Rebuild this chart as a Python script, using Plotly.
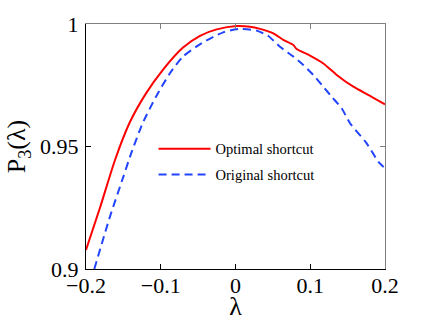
import plotly.graph_objects as go

# optimal shortcut (red solid)
lam_opt = [-0.2, -0.1813, -0.1612, -0.142, -0.1197, -0.0974, -0.0706, -0.0475, -0.0252,
           0.0016, 0.0194, 0.0328, 0.0506, 0.064, 0.0774, 0.0818, 0.0997, 0.1175,
           0.1354, 0.1576, 0.18, 0.2]
p_opt = [0.9078, 0.925, 0.9445, 0.9595, 0.9717, 0.9812, 0.9903, 0.9952, 0.9978,
         0.9992, 0.9989, 0.998, 0.9962, 0.9935, 0.9914, 0.9898, 0.9871, 0.9839,
         0.9792, 0.9744, 0.9707, 0.9672]

# original shortcut (blue dashed)
lam_orig = [-0.1889, -0.1679, -0.15, -0.1398, -0.1242, -0.1064, -0.0886, -0.0706, -0.045,
            -0.0163, 0.006, 0.0284, 0.0439, 0.0595, 0.0774, 0.0907, 0.1041, 0.1175,
            0.1287, 0.142, 0.1532, 0.1755, 0.191, 0.2]
p_orig = [0.900, 0.9214, 0.9377, 0.947, 0.9595, 0.9703, 0.9795, 0.9866, 0.9922,
          0.9966, 0.998, 0.9973, 0.9951, 0.9907, 0.9867, 0.9833, 0.9792, 0.9744,
          0.9703, 0.9656, 0.9595, 0.9513, 0.9438, 0.9411]

x_ticks = [-0.2, -0.1, 0, 0.1, 0.2]
x_labels = ["−0.2", "−0.1", "0", "0.1", "0.2"]
y_ticks = [0.9, 0.95, 1]
y_labels = ["0.9", "0.95", "1"]

serif = "Liberation Serif, Times New Roman, serif"

fig = go.Figure()
fig.add_trace(go.Scatter(x=lam_opt, y=p_opt, mode="lines", name="Optimal shortcut",
                         legendgroup="a",
                         line=dict(color="#ff0000", width=2, shape="spline", smoothing=0.6)))
fig.add_trace(go.Scatter(x=lam_orig, y=p_orig, mode="lines", name="Original shortcut",
                         legendgroup="b",
                         line=dict(color="#2244ff", width=2, shape="spline", smoothing=0.6,
                                   dash="8px,5px")))
# empty trace so the gray top/right frame axes get drawn
fig.add_trace(go.Scatter(x=[None], y=[None], xaxis="x2", yaxis="y2", showlegend=False,
                         hoverinfo="skip"))

fig.update_layout(
    width=425, height=321,
    margin=dict(l=86, r=40, t=24, b=52),
    paper_bgcolor="white", plot_bgcolor="white",
    font=dict(family=serif, color="black"),
    legend=dict(x=0.226, y=0.556, xanchor="left", yanchor="top", itemwidth=52,
                font=dict(size=14.5, family=serif), bgcolor="rgba(0,0,0,0)",
                tracegroupgap=4),
    xaxis=dict(range=[-0.2, 0.2], tickvals=x_ticks, ticktext=x_labels, automargin=False,
               ticks="inside", ticklen=5, tickcolor="black", showline=True, linecolor="black",
               linewidth=1, showgrid=False, zeroline=False,
               tickfont=dict(size=22, family=serif), ticklabelstandoff=-3,
               title=dict(text="λ", font=dict(size=26, family=serif), standoff=4)),
    yaxis=dict(range=[0.9, 1.0], tickvals=y_ticks, ticktext=y_labels, automargin=False,
               ticks="inside", ticklen=5, tickcolor="black", showline=True, linecolor="black",
               linewidth=1, showgrid=False, zeroline=False,
               tickfont=dict(size=22, family=serif), ticklabelstandoff=2,
               title=dict(text="P<sub>3</sub>(λ)", font=dict(size=26, family=serif),
                          standoff=6)),
    xaxis2=dict(range=[-0.2, 0.2], overlaying="x", side="top", tickvals=x_ticks,
                showticklabels=False, ticks="inside", ticklen=5, tickcolor="#808080",
                showline=True, linecolor="#808080", showgrid=False, zeroline=False,
                automargin=False),
    yaxis2=dict(range=[0.9, 1.0], overlaying="y", side="right", tickvals=y_ticks,
                showticklabels=False, ticks="inside", ticklen=5, tickcolor="#808080",
                showline=True, linecolor="#808080", showgrid=False, zeroline=False,
                automargin=False),
)

# drop the default page margin so the figure sits at the window's top-left corner
fig.write_html("out.html", config={"displayModeBar": False},
               post_script="document.body.style.margin='0';")
